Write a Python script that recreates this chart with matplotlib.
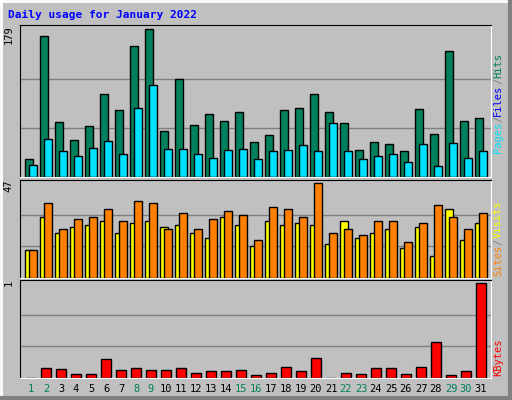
import matplotlib
matplotlib.use("Agg")
import matplotlib.pyplot as plt

days = list(range(1, 32))
hits = [22, 171, 67, 45, 62, 101, 81, 159, 179, 56, 119, 63, 77, 68, 79, 43,
        51, 81, 84, 101, 79, 66, 33, 43, 40, 32, 82, 52, 153, 68, 72]
pages = [15, 46, 31, 26, 35, 44, 28, 84, 112, 34, 34, 28, 23, 33, 34, 22,
         31, 33, 39, 32, 65, 32, 22, 26, 28, 18, 40, 13, 41, 23, 32]
files = [0] * 30 + [17]
visits = [14, 30, 22, 25, 26, 28, 22, 27, 28, 25, 26, 22, 20, 30, 26, 16,
          28, 26, 27, 26, 17, 28, 20, 22, 24, 15, 25, 11, 34, 19, 27]
sites = [14, 37, 24, 29, 30, 34, 28, 38, 37, 24, 32, 24, 29, 33, 31, 19,
         35, 34, 30, 47, 22, 24, 21, 28, 28, 18, 27, 36, 30, 24, 32]
kbytes = [0, 0.10, 0.09, 0.04, 0.04, 0.20, 0.08, 0.10, 0.08, 0.08, 0.10, 0.05,
          0.07, 0.07, 0.08, 0.03, 0.05, 0.12, 0.07, 0.21, 0, 0.05, 0.04, 0.10,
          0.10, 0.04, 0.12, 0.38, 0.03, 0.07, 1.0]
weekend = {1, 2, 8, 9, 15, 16, 22, 23, 29, 30}

W, H = 512, 400
BG = "#C0C0C0"
GREEN, CYAN, BLUE = "#00805C", "#00E0FF", "#0000FF"
YELLOW, ORANGE, RED = "#FFFF00", "#FF8000", "#FF0000"
MONO = "DejaVu Sans Mono"

fig = plt.figure(figsize=(W / 100, H / 100), dpi=100, facecolor=BG)

# marco 3D
bg = fig.add_axes([0, 0, 1, 1])
bg.set_xlim(0, W)
bg.set_ylim(H, 0)
bg.axis("off")
bg.plot([1, W - 1], [1, 1], color="white", lw=2)
bg.plot([1, 1], [1, H - 1], color="white", lw=2)
bg.plot([1, W - 1], [H - 2, H - 2], color="#808080", lw=3)
bg.plot([W - 2, W - 2], [1, H - 1], color="#808080", lw=3)
bg.text(8, 15, "Daily usage for January 2022", color=BLUE, fontsize=8,
        fontweight="bold", family=MONO, va="center")

LEFT, RIGHT = 20, 491
X0 = 1 - 11 / 15
X1 = X0 + (RIGHT - LEFT) / 15


def panel(top, bottom, ymax):
    ax = fig.add_axes([LEFT / W, 1 - bottom / H, (RIGHT - LEFT) / W, (bottom - top) / H])
    ax.set_facecolor(BG)
    ax.set_xlim(X0, X1)
    ax.set_ylim(0, ymax * 1.03)
    for frac in (1 / 3, 2 / 3):
        ax.axhline(ymax * frac, color="#808080", lw=1, zorder=0)
    ax.set_xticks([])
    ax.set_yticks([])
    for s in ("top", "left"):
        ax.spines[s].set_color("black")
    for s in ("bottom", "right"):
        ax.spines[s].set_color("white")
    ax.text(-0.025, 1.0, str(ymax), transform=ax.transAxes, rotation=90,
            ha="center", va="top", fontsize=7.5, family=MONO)
    return ax


renderer = fig.canvas.get_renderer()


def vlabel(bottom_px, parts):
    # apila los trozos de abajo hacia arriba, en pixeles
    y = bottom_px
    for txt, col in parts:
        t = bg.text(498, y, txt, rotation=90, color=col, ha="center", va="bottom",
                    fontsize=7.5, family=MONO)
        ext = t.get_window_extent(renderer)
        y -= ext.height


kw = dict(edgecolor="black", linewidth=1)

ax1 = panel(25, 177, 179)
ax1.bar([d - 0.133 for d in days], hits, width=0.47, color=GREEN, **kw, zorder=2)
ax1.bar([d - 0.05 for d in days], files, width=0.12, color=BLUE, linewidth=0, zorder=3)
ax1.bar([d + 0.133 for d in days], pages, width=0.47, color=CYAN, **kw, zorder=4)
vlabel(153, [("Pages", CYAN), ("/", "#808080"), ("Files", BLUE), ("/", "#808080"), ("Hits", GREEN)])

ax2 = panel(180, 278, 47)
ax2.bar([d - 0.133 for d in days], visits, width=0.47, color=YELLOW, **kw, zorder=2)
ax2.bar([d + 0.133 for d in days], sites, width=0.47, color=ORANGE, **kw, zorder=3)
vlabel(276, [("Sites", ORANGE), ("/", "#808080"), ("Visits", YELLOW)])

ax3 = panel(280, 378, 1)
ax3.bar(days, kbytes, width=0.68, color=RED, **kw, zorder=2)
vlabel(376, [("KBytes", RED)])

for d in days:
    bg.text(LEFT + 11 + 15 * (d - 1), 389, str(d), ha="center", va="center",
            fontsize=7.5, family=MONO, color=GREEN if d in weekend else "black")

fig.savefig("out.png", dpi=100, facecolor=BG)
